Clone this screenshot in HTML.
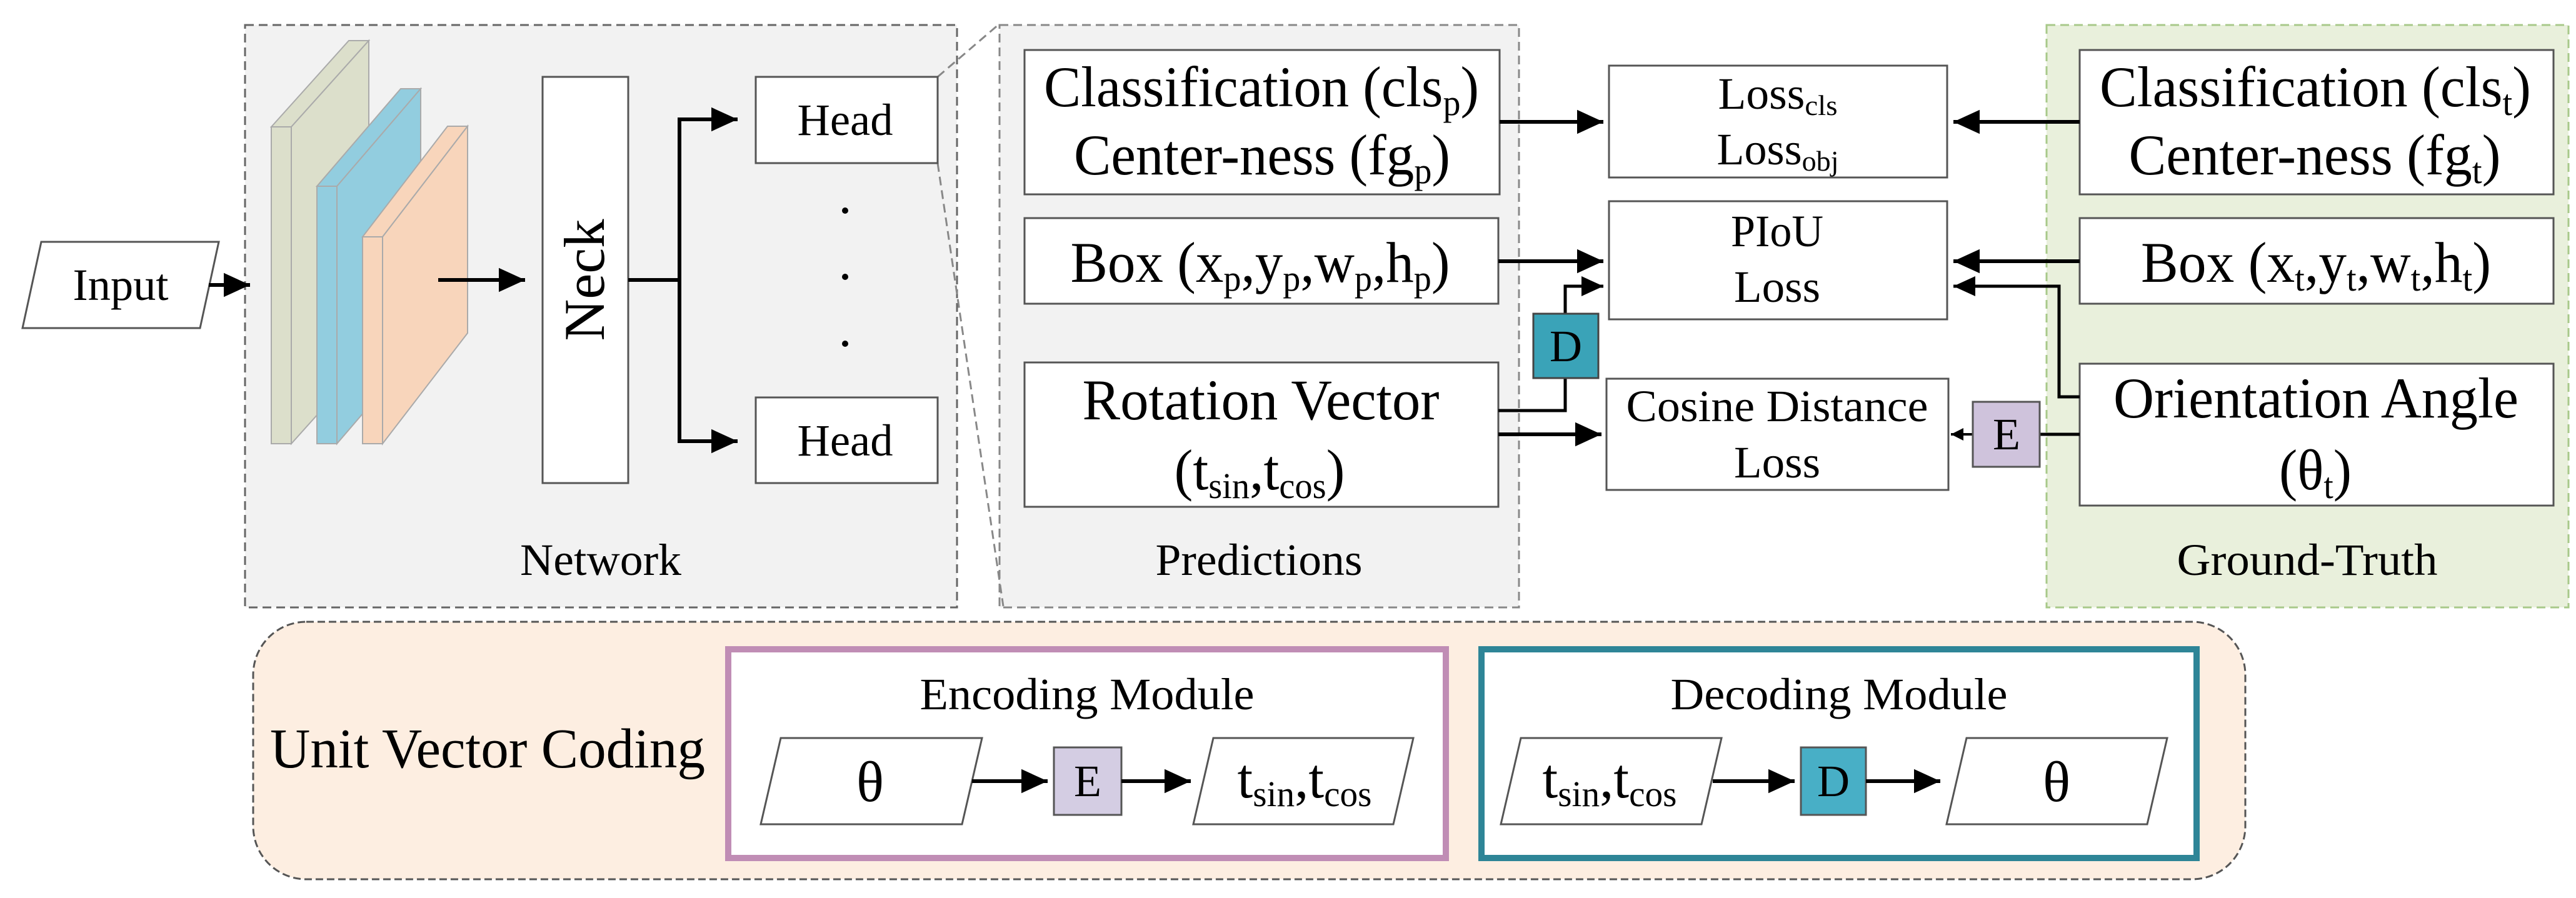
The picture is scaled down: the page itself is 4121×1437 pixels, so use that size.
<!DOCTYPE html>
<html><head><meta charset="utf-8"><style>html,body{margin:0;padding:0;background:#fff}svg{display:block}</style></head>
<body>
<svg xmlns="http://www.w3.org/2000/svg" width="4121" height="1437" viewBox="0 0 4121 1437" font-family="'Liberation Serif', serif" fill="#000">
<defs>
<marker id="a" markerWidth="8" markerHeight="8" refX="7" refY="4" orient="auto" markerUnits="strokeWidth"><path d="M0,0.8 L7,4 L0,7.2 Z" fill="#000"/></marker>
<marker id="s" markerWidth="6" markerHeight="6" refX="5" refY="3" orient="auto" markerUnits="strokeWidth"><path d="M0,0.5 L5,3 L0,5.5 Z" fill="#000"/></marker>
</defs>

<!-- Network group -->
<rect x="392" y="40" width="1139" height="932" fill="#f2f2f2" stroke="#666" stroke-width="3" stroke-dasharray="14,8"/>
<!-- Predictions group -->
<rect x="1599" y="40" width="831" height="932" fill="#f2f2f2" stroke="#888" stroke-width="3" stroke-dasharray="14,8"/>
<!-- GT group -->
<rect x="3274" y="40" width="835" height="932" fill="#e9f0dc" stroke="#a8c98a" stroke-width="3" stroke-dasharray="14,8"/>

<!-- zoom dashed lines -->
<line x1="1500" y1="123" x2="1599" y2="38" stroke="#888" stroke-width="3" stroke-dasharray="14,8"/>
<line x1="1500" y1="261" x2="1605" y2="970" stroke="#888" stroke-width="3" stroke-dasharray="14,8"/>

<!-- Input -->
<polygon points="66,387 350,387 320,525 36,525" fill="#fff" stroke="#555" stroke-width="3"/>
<text x="193" y="480" font-size="72" text-anchor="middle" textLength="153" lengthAdjust="spacingAndGlyphs">Input</text>
<line x1="334" y1="456" x2="400" y2="456" stroke="#000" stroke-width="6" marker-end="url(#a)"/>

<!-- slabs -->
<g stroke="#aaa" stroke-width="2">
<polygon points="434,203 558,65 590,65 466,203" fill="#dcdfcb"/>
<polygon points="466,203 590,65 590,572 466,710" fill="#dcdfcb"/>
<rect x="434" y="203" width="32" height="507" fill="#dcdfcb"/>
<polygon points="507,298 641,142 673,142 539,298" fill="#92cddf"/>
<polygon points="539,298 673,142 673,554 539,710" fill="#92cddf"/>
<rect x="507" y="298" width="32" height="412" fill="#92cddf"/>
<polygon points="580,379 716,202 748,202 612,379" fill="#f8d5bb"/>
<polygon points="612,379 748,202 748,533 612,710" fill="#f8d5bb"/>
<rect x="580" y="379" width="32" height="331" fill="#f8d5bb"/>
</g>
<line x1="701" y1="448" x2="840" y2="448" stroke="#000" stroke-width="6" marker-end="url(#a)"/>

<!-- Neck -->
<rect x="868" y="123" width="137" height="650" fill="#fff" stroke="#555" stroke-width="3"/>
<text transform="translate(966,448) rotate(-90)" font-size="92" text-anchor="middle" textLength="195" lengthAdjust="spacingAndGlyphs">Neck</text>
<polyline points="1005,448 1087,448" fill="none" stroke="#000" stroke-width="6"/>
<polyline points="1180,191 1087,191 1087,706 1180,706" fill="none" stroke="#000" stroke-width="6"/>
<line x1="1087" y1="191" x2="1180" y2="191" stroke="#000" stroke-width="6" marker-end="url(#a)"/>
<line x1="1087" y1="706" x2="1180" y2="706" stroke="#000" stroke-width="6" marker-end="url(#a)"/>

<!-- Heads -->
<rect x="1209" y="123" width="291" height="138" fill="#fff" stroke="#555" stroke-width="3"/>
<text x="1352" y="216" font-size="72" text-anchor="middle" textLength="153" lengthAdjust="spacingAndGlyphs">Head</text>
<rect x="1209" y="636" width="291" height="137" fill="#fff" stroke="#555" stroke-width="3"/>
<text x="1352" y="729" font-size="72" text-anchor="middle" textLength="153" lengthAdjust="spacingAndGlyphs">Head</text>
<circle cx="1352" cy="337" r="5"/><circle cx="1352" cy="443" r="5"/><circle cx="1352" cy="550" r="5"/>
<text x="961" y="920" font-size="72" text-anchor="middle" textLength="258" lengthAdjust="spacingAndGlyphs">Network</text>

<!-- Predictions -->
<rect x="1639" y="80" width="760" height="231" fill="#fff" stroke="#555" stroke-width="3"/>
<text x="2018" y="170" font-size="92" text-anchor="middle" textLength="696" lengthAdjust="spacingAndGlyphs">Classification (cls<tspan font-size="58" dy="14">p</tspan><tspan dy="-14">)</tspan></text>
<text x="2019" y="279" font-size="92" text-anchor="middle" textLength="602" lengthAdjust="spacingAndGlyphs">Center-ness (fg<tspan font-size="58" dy="14">p</tspan><tspan dy="-14">)</tspan></text>
<rect x="1639" y="349" width="758" height="137" fill="#fff" stroke="#555" stroke-width="3"/>
<text x="2016" y="451" font-size="92" text-anchor="middle" textLength="607" lengthAdjust="spacingAndGlyphs">Box (x<tspan font-size="58" dy="14">p</tspan><tspan dy="-14">,y</tspan><tspan font-size="58" dy="14">p</tspan><tspan dy="-14">,w</tspan><tspan font-size="58" dy="14">p</tspan><tspan dy="-14">,h</tspan><tspan font-size="58" dy="14">p</tspan><tspan dy="-14">)</tspan></text>
<rect x="1639" y="580" width="758" height="231" fill="#fff" stroke="#555" stroke-width="3"/>
<text x="2017" y="671" font-size="92" text-anchor="middle" textLength="571" lengthAdjust="spacingAndGlyphs">Rotation Vector</text>
<text x="2015" y="783" font-size="92" text-anchor="middle" textLength="273" lengthAdjust="spacingAndGlyphs">(t<tspan font-size="58" dy="14">sin</tspan><tspan dy="-14">,t</tspan><tspan font-size="58" dy="14">cos</tspan><tspan dy="-14">)</tspan></text>
<text x="2014" y="920" font-size="72" text-anchor="middle" textLength="331" lengthAdjust="spacingAndGlyphs">Predictions</text>

<!-- Losses -->
<rect x="2574" y="105" width="541" height="179" fill="#fff" stroke="#555" stroke-width="3"/>
<text x="2844" y="174" font-size="72" text-anchor="middle" textLength="191" lengthAdjust="spacingAndGlyphs">Loss<tspan font-size="46" dy="10">cls</tspan></text>
<text x="2844" y="263" font-size="72" text-anchor="middle" textLength="195" lengthAdjust="spacingAndGlyphs">Loss<tspan font-size="46" dy="10">obj</tspan></text>
<rect x="2574" y="322" width="541" height="189" fill="#fff" stroke="#555" stroke-width="3"/>
<text x="2843" y="394" font-size="72" text-anchor="middle" textLength="148" lengthAdjust="spacingAndGlyphs">PIoU</text>
<text x="2843" y="483" font-size="72" text-anchor="middle" textLength="138" lengthAdjust="spacingAndGlyphs">Loss</text>
<rect x="2570" y="606" width="547" height="178" fill="#fff" stroke="#555" stroke-width="3"/>
<text x="2843" y="674" font-size="72" text-anchor="middle" textLength="483" lengthAdjust="spacingAndGlyphs">Cosine Distance</text>
<text x="2843" y="764" font-size="72" text-anchor="middle" textLength="138" lengthAdjust="spacingAndGlyphs">Loss</text>

<!-- pred arrows -->
<line x1="2399" y1="195" x2="2565" y2="195" stroke="#000" stroke-width="6" marker-end="url(#a)"/>
<line x1="2397" y1="418" x2="2565" y2="418" stroke="#000" stroke-width="6" marker-end="url(#a)"/>
<polyline points="2397,657 2504,657 2504,605" fill="none" stroke="#000" stroke-width="5"/>
<polyline points="2504,502 2504,458 2530,458" fill="none" stroke="#000" stroke-width="5"/>
<line x1="2504" y1="458" x2="2565" y2="458" stroke="#000" stroke-width="5" marker-end="url(#a)"/>
<rect x="2453" y="502" width="104" height="103" fill="#3aa3b8" stroke="#444" stroke-width="3"/>
<text x="2505" y="578" font-size="72" text-anchor="middle">D</text>
<line x1="2397" y1="695" x2="2562" y2="695" stroke="#000" stroke-width="6" marker-end="url(#a)"/>

<!-- Ground truth -->
<rect x="3327" y="80" width="758" height="231" fill="#fff" stroke="#555" stroke-width="3"/>
<text x="3704" y="170" font-size="92" text-anchor="middle" textLength="690" lengthAdjust="spacingAndGlyphs">Classification (cls<tspan font-size="58" dy="14">t</tspan><tspan dy="-14">)</tspan></text>
<text x="3703" y="279" font-size="92" text-anchor="middle" textLength="595" lengthAdjust="spacingAndGlyphs">Center-ness (fg<tspan font-size="58" dy="14">t</tspan><tspan dy="-14">)</tspan></text>
<rect x="3327" y="349" width="758" height="137" fill="#fff" stroke="#555" stroke-width="3"/>
<text x="3705" y="451" font-size="92" text-anchor="middle" textLength="560" lengthAdjust="spacingAndGlyphs">Box (x<tspan font-size="58" dy="14">t</tspan><tspan dy="-14">,y</tspan><tspan font-size="58" dy="14">t</tspan><tspan dy="-14">,w</tspan><tspan font-size="58" dy="14">t</tspan><tspan dy="-14">,h</tspan><tspan font-size="58" dy="14">t</tspan><tspan dy="-14">)</tspan></text>
<rect x="3327" y="582" width="758" height="227" fill="#fff" stroke="#555" stroke-width="3"/>
<text x="3705" y="668" font-size="92" text-anchor="middle" textLength="648" lengthAdjust="spacingAndGlyphs">Orientation Angle</text>
<text x="3704" y="783" font-size="92" text-anchor="middle" textLength="116" lengthAdjust="spacingAndGlyphs">(θ<tspan font-size="58" dy="14">t</tspan><tspan dy="-14">)</tspan></text>
<text x="3691" y="920" font-size="72" text-anchor="middle" textLength="417" lengthAdjust="spacingAndGlyphs">Ground-Truth</text>

<!-- GT arrows -->
<line x1="3327" y1="195" x2="3125" y2="195" stroke="#000" stroke-width="6" marker-end="url(#a)"/>
<line x1="3327" y1="418" x2="3125" y2="418" stroke="#000" stroke-width="6" marker-end="url(#a)"/>
<polyline points="3327,635 3294,635 3294,458 3200,458" fill="none" stroke="#000" stroke-width="5"/>
<line x1="3200" y1="458" x2="3125" y2="458" stroke="#000" stroke-width="5" marker-end="url(#a)"/>
<line x1="3327" y1="695" x2="3263" y2="695" stroke="#000" stroke-width="5"/>
<line x1="3156" y1="695" x2="3121" y2="695" stroke="#000" stroke-width="4" marker-end="url(#s)"/>
<rect x="3156" y="643" width="107" height="104" fill="#cfc3dc" stroke="#555" stroke-width="3"/>
<text x="3210" y="719" font-size="72" text-anchor="middle">E</text>

<!-- Unit Vector Coding -->
<rect x="405" y="995" width="3187" height="412" rx="85" ry="85" fill="#fdeee1" stroke="#555" stroke-width="3" stroke-dasharray="12,6"/>
<text x="780" y="1228" font-size="90" text-anchor="middle" textLength="696" lengthAdjust="spacingAndGlyphs">Unit Vector Coding</text>

<rect x="1165" y="1039" width="1148" height="334" fill="#fff" stroke="#c08db5" stroke-width="10"/>
<text x="1739" y="1135" font-size="72" text-anchor="middle" textLength="535" lengthAdjust="spacingAndGlyphs">Encoding Module</text>
<polygon points="1249,1181 1571,1181 1539,1319 1217,1319" fill="#fff" stroke="#555" stroke-width="3"/>
<text x="1392" y="1282" font-size="92" text-anchor="middle">θ</text>
<line x1="1555" y1="1250" x2="1676" y2="1250" stroke="#000" stroke-width="6" marker-end="url(#a)"/>
<rect x="1686" y="1196" width="108" height="108" fill="#d4cde3" stroke="#555" stroke-width="3"/>
<text x="1740" y="1274" font-size="72" text-anchor="middle">E</text>
<line x1="1794" y1="1250" x2="1905" y2="1250" stroke="#000" stroke-width="6" marker-end="url(#a)"/>
<polygon points="1941,1181 2261,1181 2229,1319 1909,1319" fill="#fff" stroke="#555" stroke-width="3"/>
<text x="2087" y="1276" font-size="90" text-anchor="middle" textLength="215" lengthAdjust="spacingAndGlyphs">t<tspan font-size="58" dy="14">sin</tspan><tspan dy="-14">,t</tspan><tspan font-size="58" dy="14">cos</tspan></text>

<rect x="2370" y="1039" width="1144" height="334" fill="#fff" stroke="#2e8597" stroke-width="10"/>
<text x="2942" y="1135" font-size="72" text-anchor="middle" textLength="539" lengthAdjust="spacingAndGlyphs">Decoding Module</text>
<polygon points="2433,1181 2754,1181 2722,1319 2401,1319" fill="#fff" stroke="#555" stroke-width="3"/>
<text x="2575" y="1276" font-size="90" text-anchor="middle" textLength="215" lengthAdjust="spacingAndGlyphs">t<tspan font-size="58" dy="14">sin</tspan><tspan dy="-14">,t</tspan><tspan font-size="58" dy="14">cos</tspan></text>
<line x1="2740" y1="1250" x2="2871" y2="1250" stroke="#000" stroke-width="6" marker-end="url(#a)"/>
<rect x="2881" y="1196" width="104" height="108" fill="#48afc6" stroke="#555" stroke-width="3"/>
<text x="2933" y="1274" font-size="72" text-anchor="middle">D</text>
<line x1="2985" y1="1250" x2="3104" y2="1250" stroke="#000" stroke-width="6" marker-end="url(#a)"/>
<polygon points="3146,1181 3467,1181 3435,1319 3114,1319" fill="#fff" stroke="#555" stroke-width="3"/>
<text x="3290" y="1282" font-size="92" text-anchor="middle">θ</text>
</svg>
</body></html>
